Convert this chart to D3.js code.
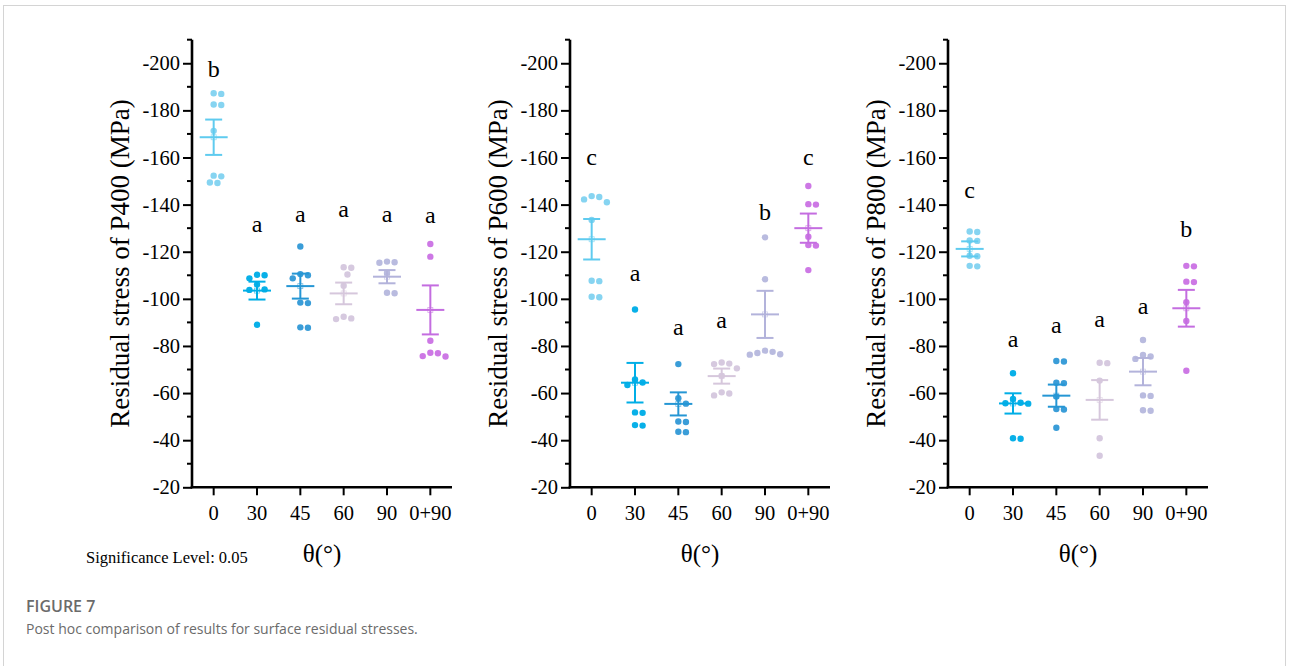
<!DOCTYPE html>
<html>
<head>
<meta charset="utf-8">
<script src="https://cdn.jsdelivr.net/npm/d3@7"></script>
<style>
  html, body { margin: 0; padding: 0; background: #fff; }
  svg { display: block; }
</style>
</head>
<body>
<svg id="chart" width="1290" height="666"></svg>
<script>
// ---------------- DATA ----------------
const categories = ["0", "30", "45", "60", "90", "0+90"];
const panelNames = ["P400", "P600", "P800"];
const yTicks = [-200, -180, -160, -140, -120, -100, -80, -60, -40, -20];

// individual measurements (MPa) per category
const p400Points = [
  [-187.3, -187.0, -182.5, -182.3, -171.3, -152.3, -152.0, -149.4, -149.2],
  [-110.2, -110.0, -108.7, -106.1, -104.0, -103.8, -89.0],
  [-122.2, -110.5, -110.0, -108.7, -98.4, -98.2, -87.9, -87.7],
  [-113.4, -113.2, -110.3, -105.6, -92.4, -91.7, -91.4],
  [-115.8, -115.5, -115.3, -111.0, -102.6, -102.4],
  [-123.3, -117.9, -82.2, -77.1, -76.9, -75.7, -75.5]
];
const p600Points = [
  [-143.6, -143.2, -142.2, -141.0, -133.5, -107.7, -107.5, -100.9, -100.7],
  [-95.5, -65.8, -64.5, -63.4, -51.8, -51.6, -46.4, -46.2],
  [-72.3, -57.8, -55.5, -47.9, -47.7, -43.6, -43.4],
  [-73.0, -72.5, -72.3, -70.5, -67.3, -60.3, -59.8, -59.0],
  [-126.1, -108.3, -78.0, -77.5, -77.0, -76.5, -76.3],
  [-147.9, -140.2, -140.0, -126.4, -122.8, -122.6, -112.2]
];
const p800Points = [
  [-128.6, -128.4, -124.8, -124.6, -118.3, -118.1, -114.0, -113.8],
  [-68.4, -57.5, -55.9, -55.7, -55.5, -40.8, -40.6],
  [-73.6, -73.4, -64.4, -64.2, -58.5, -53.2, -53.0, -45.3],
  [-72.9, -72.7, -65.3, -40.8, -33.4],
  [-82.5, -76.2, -75.5, -74.5, -59.0, -58.8, -52.7, -52.5],
  [-114.0, -113.8, -107.3, -107.1, -98.6, -90.6, -69.5]
];

// mean and standard error
const p400Mean = [-168.6, -103.5, -105.4, -102.3, -109.4, -95.3];
const p400Sem  = [7.5, 3.8, 5.3, 4.6, 2.8, 10.4];
const p600Mean = [-125.3, -64.4, -55.4, -67.2, -93.4, -130.0];
const p600Sem  = [8.6, 8.4, 4.9, 3.2, 10.0, 6.2];
const p800Mean = [-121.2, -55.6, -58.9, -57.1, -69.1, -96.0];
const p800Sem  = [3.2, 4.3, 4.7, 8.4, 5.8, 7.8];

// significance letters and their height (MPa)
const p400Letters = ["b", "a", "a", "a", "a", "a"];
const p400LetterY = [-194.2, -128.4, -132.7, -134.9, -132.7, -132.0];
const p600Letters = ["c", "a", "a", "a", "b", "c"];
const p600LetterY = [-156.8, -107.7, -84.7, -87.5, -133.5, -156.8];
const p800Letters = ["c", "a", "a", "a", "a", "b"];
const p800LetterY = [-142.7, -79.7, -85.4, -87.9, -93.6, -126.4];

const dotColors = ["#86d4f1", "#08b0e8", "#3a9dd8", "#d6c9df", "#b9bbdf", "#cd78e5"];
const barColors = ["#5fcbef", "#00aee6", "#2596d4", "#d6c7dc", "#b3b3db", "#c46de0"];

const panels = [
  { name: panelNames[0], points: p400Points, mean: p400Mean, sem: p400Sem, letters: p400Letters, letterY: p400LetterY },
  { name: panelNames[1], points: p600Points, mean: p600Mean, sem: p600Sem, letters: p600Letters, letterY: p600LetterY },
  { name: panelNames[2], points: p800Points, mean: p800Mean, sem: p800Sem, letters: p800Letters, letterY: p800LetterY }
];

// ---------------- LAYOUT ----------------
const svg = d3.select("#chart");
const serif = "'Liberation Serif', 'Times New Roman', serif";
const sans = "'Open Sans', 'Noto Sans', sans-serif";

// figure frame
svg.append("rect").attr("x", 3.5).attr("y", 5.5).attr("width", 1282).attr("height", 700)
  .attr("fill", "none").attr("stroke", "#d4d4d4").attr("stroke-width", 1);

const panelLeft = [192, 570, 948];
const plotW = 260;
const yTop = 39.7, yBottom = 487.3;
const y = d3.scaleLinear().domain([-20, -210]).range([yBottom, yTop]);
const dotR = 3.2;

function swarm(values, cx) {
  const placed = [];
  const order = values.map((v, i) => ({ v, i })).sort((a, b) => a.v - b.v);
  const step = dotR * 2 + 1.2;
  order.forEach(o => {
    const py = y(o.v);
    const cands = [0];
    for (let k = 1; k < 6; k++) { cands.push(k * step / 2, -k * step / 2); }
    let best = null;
    for (const dx of cands.sort((a, b) => Math.abs(a) - Math.abs(b) || b - a)) {
      const ok = placed.every(p => Math.hypot(p.x - (cx + dx), p.y - py) >= step - 0.2);
      if (ok) { best = dx; break; }
    }
    placed.push({ x: cx + (best === null ? 0 : best), y: py, v: o.v });
  });
  return placed;
}

panels.forEach((p, pi) => {
  const x0 = panelLeft[pi];
  const g = svg.append("g");
  const x = d3.scaleBand().domain(categories).range([x0, x0 + plotW]).padding(0);

  const yAxis = d3.axisLeft(y).tickValues(yTicks).tickSize(9).tickPadding(3).tickFormat(d => d);
  const ya = g.append("g").attr("transform", `translate(${x0},0)`).call(yAxis);
  ya.select(".domain").remove();
  ya.selectAll(".tick line").attr("stroke", "#000").attr("stroke-width", 2);
  ya.selectAll(".tick text").attr("font-family", serif).attr("font-size", 20.5).attr("fill", "#000");
  const minor = d3.range(-210, -20, 20);
  g.selectAll(".minor").data(minor).enter().append("line")
    .attr("x1", x0 - 5).attr("x2", x0).attr("y1", d => y(d)).attr("y2", d => y(d))
    .attr("stroke", "#000").attr("stroke-width", 2);
  g.append("line").attr("x1", x0).attr("x2", x0).attr("y1", yTop).attr("y2", yBottom + 1)
    .attr("stroke", "#000").attr("stroke-width", 2.6);

  const xAxis = d3.axisBottom(x).tickSize(8).tickPadding(10);
  const xa = g.append("g").attr("transform", `translate(0,${yBottom})`).call(xAxis);
  xa.select(".domain").remove();
  xa.selectAll(".tick line").attr("stroke", "#000").attr("stroke-width", 2);
  xa.selectAll(".tick text").attr("font-family", serif).attr("font-size", 20.5).attr("fill", "#000");
  g.append("line").attr("x1", x0 - 1.3).attr("x2", x0 + plotW).attr("y1", yBottom).attr("y2", yBottom)
    .attr("stroke", "#000").attr("stroke-width", 2.6);

  g.append("text")
    .attr("transform", `translate(${x0 - 63},${(yTop + yBottom) / 2}) rotate(-90)`)
    .attr("text-anchor", "middle").attr("font-family", serif).attr("font-size", 27).attr("fill", "#000")
    .text(`Residual stress of ${p.name} (MPa)`);
  g.append("text")
    .attr("x", x0 + plotW / 2).attr("y", 562)
    .attr("text-anchor", "middle").attr("font-family", serif).attr("font-size", 25).attr("fill", "#000")
    .text("θ(°)");

  categories.forEach((c, ci) => {
    const cx = x(c) + x.bandwidth() / 2;
    const pts = swarm(p.points[ci], cx);
    g.selectAll(null).data(pts).enter().append("circle")
      .attr("cx", d => d.x).attr("cy", d => d.y).attr("r", dotR)
      .attr("fill", dotColors[ci]);

    const m = p.mean[ci], s = p.sem[ci];
    const col = barColors[ci];
    const eg = g.append("g").attr("stroke", col).attr("stroke-width", 2).attr("fill", "none");
    eg.append("line").attr("x1", cx).attr("x2", cx).attr("y1", y(m - s)).attr("y2", y(m + s));
    eg.append("line").attr("x1", cx - 8.5).attr("x2", cx + 8.5).attr("y1", y(m - s)).attr("y2", y(m - s));
    eg.append("line").attr("x1", cx - 8.5).attr("x2", cx + 8.5).attr("y1", y(m + s)).attr("y2", y(m + s));
    eg.append("line").attr("x1", cx - 14).attr("x2", cx + 14).attr("y1", y(m)).attr("y2", y(m));
    eg.append("rect").attr("x", cx - 2.5).attr("y", y(m) - 2.5).attr("width", 5).attr("height", 5)
      .attr("stroke-width", 0.8).attr("stroke-opacity", 0.6);

    g.append("text").attr("x", cx).attr("y", y(p.letterY[ci]))
      .attr("text-anchor", "middle").attr("font-family", serif).attr("font-size", 24).attr("fill", "#000")
      .text(p.letters[ci]);
  });
});

svg.append("text").attr("x", 86).attr("y", 563)
  .attr("font-family", serif).attr("font-size", 16.5).attr("fill", "#000")
  .text("Significance Level: 0.05");

svg.append("text").attr("x", 26).attr("y", 612)
  .attr("font-family", sans).attr("font-size", 16).attr("font-weight", 600).attr("fill", "#6b6b6b")
  .text("FIGURE 7");
svg.append("text").attr("x", 26).attr("y", 634)
  .attr("font-family", sans).attr("font-size", 14).attr("fill", "#6b6b6b")
  .text("Post hoc comparison of results for surface residual stresses.");
</script>
</body>
</html>
